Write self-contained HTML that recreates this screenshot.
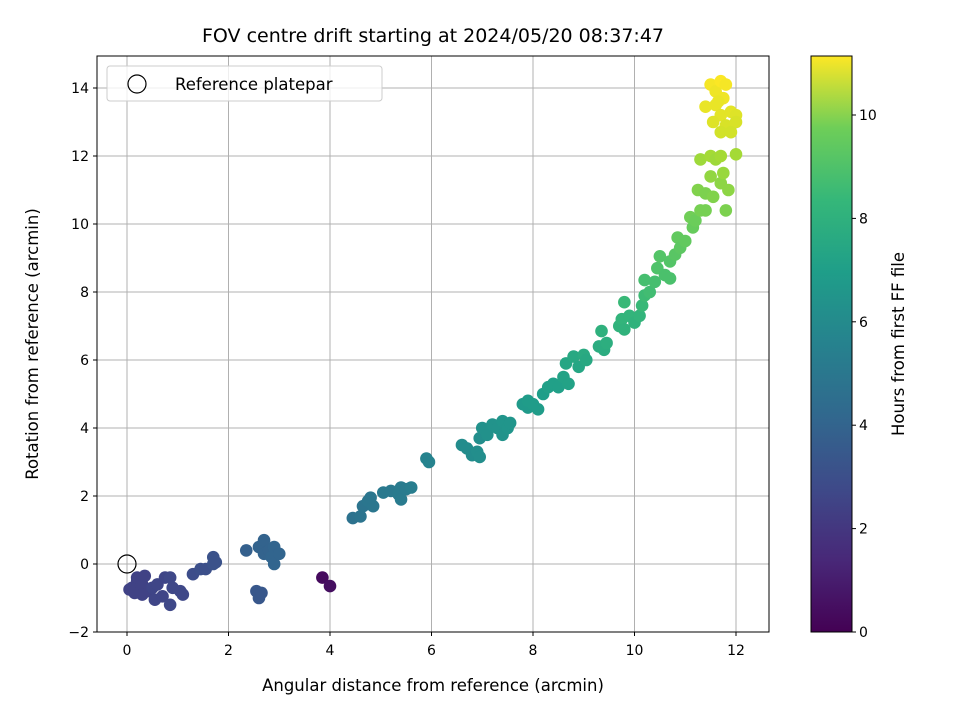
<!DOCTYPE html>
<html><head><meta charset="utf-8"><style>
body{margin:0;background:#fff;font-family:"Liberation Sans","DejaVu Sans",sans-serif}
svg text{font-family:"DejaVu Sans","Liberation Sans",sans-serif}
</style></head><body>
<svg id="c" width="960" height="720" viewBox="0 0 960 720">
<defs><linearGradient id="vg" x1="0" y1="1" x2="0" y2="0">
<stop offset="0" stop-color="#440154"/><stop offset="0.125" stop-color="#482878"/><stop offset="0.25" stop-color="#3e4a89"/><stop offset="0.375" stop-color="#31688e"/><stop offset="0.5" stop-color="#26828e"/><stop offset="0.625" stop-color="#1f9e89"/><stop offset="0.75" stop-color="#35b779"/><stop offset="0.875" stop-color="#6ece58"/><stop offset="1" stop-color="#fde725"/></linearGradient></defs>
<text x="433" y="42" font-size="19" text-anchor="middle">FOV centre drift starting at 2024/05/20 08:37:47</text>
<g id="grid"></g><g id="pts"></g>
<rect x="97" y="56" width="672" height="576" fill="none" stroke="#000" stroke-width="1"/>
<g id="ticks"></g>
<text x="433" y="691" font-size="16.5" text-anchor="middle">Angular distance from reference (arcmin)</text>
<text transform="translate(38,344) rotate(-90)" font-size="16.5" text-anchor="middle">Rotation from reference (arcmin)</text>
<g>
<rect x="107" y="66" width="275" height="35" rx="3" fill="#fff" fill-opacity="0.8" stroke="#ccc"/>
<circle cx="137" cy="84" r="9" fill="none" stroke="#000" stroke-width="1.2"/>
<text x="175" y="90" font-size="16.5">Reference platepar</text></g>
<rect x="811" y="56" width="41" height="576" fill="url(#vg)" stroke="#000"/>
<g id="cbt"></g>
<text transform="translate(904,344) rotate(-90)" font-size="16.5" text-anchor="middle">Hours from first FF file</text>
</svg>
<script>
const xTicks=[0,2,4,6,8,10,12];
const yTicks=[-2,0,2,4,6,8,10,12,14];
const cTicks=[0,2,4,6,8,10];
const xs=[3.85,4.0,0.1,0.15,0.2,0.3,0.35,0.4,0.5,0.55,0.6,0.7,0.75,0.85,0.85,0.9,1.05,1.1,0.3,0.2,0.05,1.3,1.45,1.55,1.7,1.7,1.75,2.55,2.6,2.65,2.35,2.6,2.7,2.7,2.8,2.9,2.85,2.9,3.0,4.45,4.6,4.65,4.75,4.85,4.8,5.05,5.2,5.35,5.4,5.4,5.5,5.6,5.9,5.95,6.6,6.7,6.8,6.9,6.95,6.95,7.0,7.1,7.2,7.3,7.4,7.4,7.5,7.55,7.8,7.9,7.9,8.0,8.1,8.2,8.3,8.4,8.5,8.6,8.65,8.7,8.8,8.9,9.0,9.05,9.3,9.35,9.4,9.45,9.7,9.75,9.8,9.8,9.9,10.0,10.1,10.15,10.2,10.2,10.3,10.4,10.45,10.5,10.6,10.7,10.7,10.8,10.85,10.9,11.0,11.1,11.15,11.2,11.25,11.3,11.3,11.4,11.4,11.5,11.5,11.55,11.6,11.7,11.7,11.75,11.8,11.85,12.0,11.5,11.6,11.7,11.8,11.6,11.7,11.55,11.4,11.8,11.9,12.0,12.0,11.7,11.9,11.75,11.65];
const ys=[-0.4,-0.65,-0.7,-0.85,-0.5,-0.6,-0.35,-0.8,-0.7,-1.05,-0.6,-0.95,-0.4,-0.4,-1.2,-0.7,-0.8,-0.9,-0.9,-0.4,-0.75,-0.3,-0.15,-0.15,0.0,0.2,0.05,-0.8,-1.0,-0.85,0.4,0.5,0.7,0.3,0.4,0.5,0.2,0.0,0.3,1.35,1.4,1.7,1.85,1.7,1.95,2.1,2.15,2.05,1.9,2.25,2.2,2.25,3.1,3.0,3.5,3.4,3.2,3.3,3.15,3.7,4.0,3.8,4.1,4.0,3.8,4.2,4.0,4.15,4.7,4.6,4.8,4.7,4.55,5.0,5.2,5.3,5.2,5.5,5.9,5.3,6.1,5.8,6.15,6.0,6.4,6.85,6.3,6.5,7.0,7.2,6.9,7.7,7.3,7.1,7.3,7.6,7.9,8.35,8.0,8.3,8.7,9.05,8.5,8.4,8.9,9.1,9.6,9.3,9.5,10.2,9.9,10.1,11.0,10.4,11.9,10.9,10.4,11.4,12.0,10.8,11.9,11.2,12.0,11.5,10.4,11.0,12.05,14.1,13.9,14.2,14.1,13.5,13.2,13.0,13.45,12.9,13.3,13.2,13.0,12.7,12.7,13.7,13.6];
const hs=[0.3,0.4,2.2,2.2,2.2,2.2,2.2,2.2,2.3,2.3,2.3,2.3,2.3,2.4,2.4,2.4,2.4,2.4,2.2,2.2,2.2,2.6,2.7,2.7,2.8,2.8,2.8,3.0,3.0,3.0,3.4,3.5,3.5,3.5,3.5,3.6,3.6,3.6,3.6,4.2,4.3,4.3,4.4,4.4,4.4,4.5,4.5,4.6,4.6,4.6,4.6,4.7,5.0,5.0,5.4,5.4,5.4,5.5,5.5,5.5,5.6,5.6,5.7,5.7,5.7,5.8,5.8,5.8,6.0,6.0,6.1,6.1,6.1,6.2,6.3,6.3,6.3,6.4,6.6,6.4,6.7,6.6,6.8,6.7,6.9,7.1,6.9,7.0,7.2,7.3,7.2,7.5,7.3,7.2,7.3,7.5,7.6,7.8,7.7,7.8,8.0,8.1,7.9,7.9,8.1,8.2,8.4,8.3,8.4,8.7,8.5,8.6,9.0,8.8,9.5,8.9,8.8,9.3,9.6,9.0,9.5,9.2,9.6,9.4,8.9,9.2,9.6,11.0,10.9,11.1,11.0,10.8,10.7,10.6,10.8,10.5,10.7,10.6,10.5,10.4,10.4,10.9,10.8];
const X=v=>127+v*50.75, Y=v=>564-v*34, C=v=>632-v*51.7;
const vir=[[68,1,84],[72,40,120],[62,74,137],[49,104,142],[38,130,142],[31,158,137],[53,183,121],[110,206,88],[181,222,43],[253,231,37]];
function col(h){let t=Math.max(0,Math.min(1,h/11.14))*(vir.length-1),i=Math.min(Math.floor(t),vir.length-2),f=t-i;
return 'rgb('+vir[i].map((a,k)=>Math.round(a+(vir[i+1][k]-a)*f)).join(',')+')';}
const NS='http://www.w3.org/2000/svg';
function mk(p,t,a){const e=document.createElementNS(NS,t);for(const k in a)e.setAttribute(k,a[k]);document.getElementById(p).appendChild(e);return e;}
xTicks.forEach(v=>{const l=mk('grid','line',{x1:X(v),x2:X(v),y1:56,y2:632,stroke:'#b0b0b0','stroke-width':1});


const t=mk('ticks','line',{x1:X(v),x2:X(v),y1:632,y2:636,stroke:'#000'});


const s=mk('ticks','text',{x:X(v),y:655,'font-size':14,'text-anchor':'middle'});s.textContent=v;

});
yTicks.forEach(v=>{const l=mk('grid','line',{x1:97,x2:769,y1:Y(v),y2:Y(v),stroke:'#b0b0b0','stroke-width':1});


const t=mk('ticks','line',{x1:93,x2:97,y1:Y(v),y2:Y(v),stroke:'#000'});


const s=mk('ticks','text',{x:89,y:Y(v)+5,'font-size':14,'text-anchor':'end'});s.textContent=v<0?'\u2212'+(-v):v;

});
cTicks.forEach(v=>{const t=mk('cbt','line',{x1:852,x2:856,y1:C(v),y2:C(v),stroke:'#000'});


const s=mk('cbt','text',{x:859,y:C(v)+5,'font-size':14});s.textContent=v;

});
xs.forEach((x,i)=>{const c=mk('pts','circle',{cx:X(x),cy:Y(ys[i]),r:6.3,fill:col(hs[i])});

});
const r=mk('pts','circle',{cx:X(0),cy:Y(0),r:9,fill:'none',stroke:'#000','stroke-width':1.2});


</script>
</body></html>
